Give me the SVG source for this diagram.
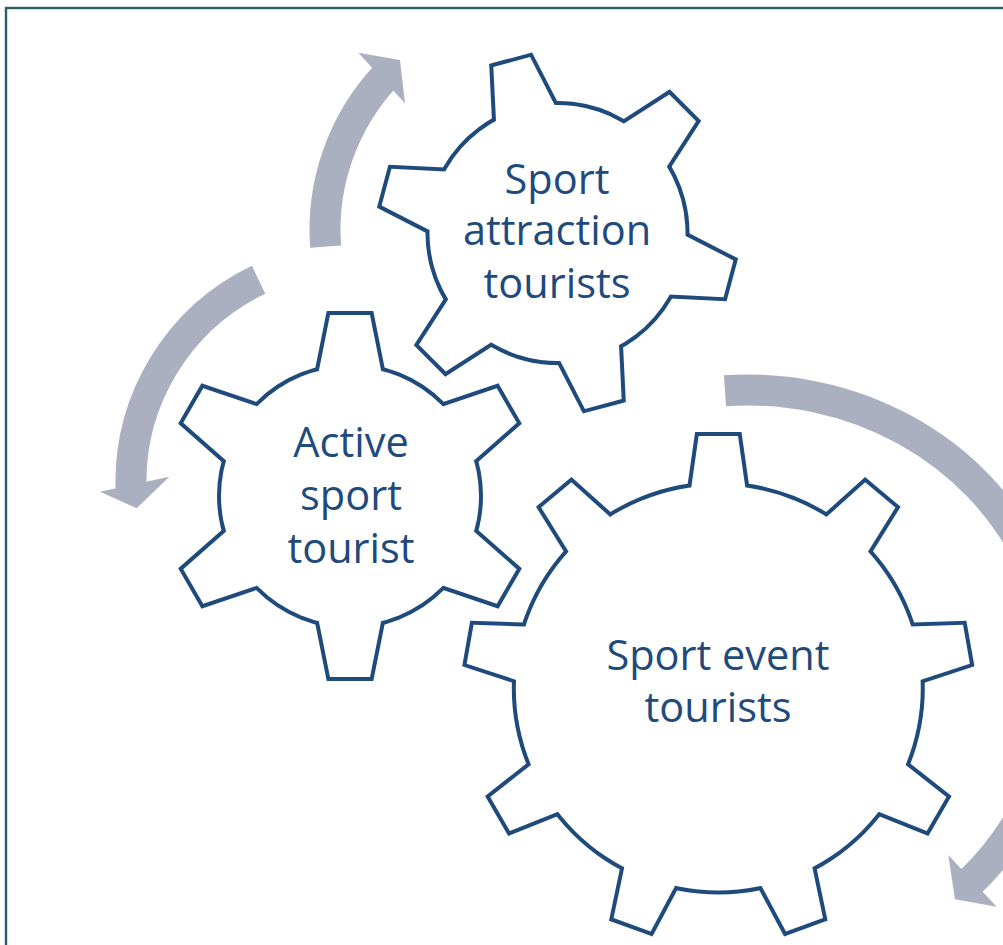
<svg xmlns="http://www.w3.org/2000/svg" xmlns:xlink="http://www.w3.org/1999/xlink" width="1003" height="945" viewBox="0 0 1003 945">
  <style>
    .frame { fill: none; stroke: #2b5e6c; stroke-width: 2.4; }
    .flow { fill: none; stroke: #aab0bf; stroke-width: 31; stroke-linecap: butt; }
    .head { fill: #aab0bf; stroke: none; }
    /* rim: doubled stroke, half of it stays visible outside the white face */
    .rim { fill: #1f4a7c; stroke: #1f4a7c; stroke-width: 8; stroke-linejoin: miter; stroke-miterlimit: 10; }
    .face { fill: #ffffff; stroke: none; }
    .lbl { font-family: "Open Sans", "Noto Sans", "Liberation Sans", sans-serif; font-size: 41.5px; fill: #1f4a7c; text-anchor: middle; }
  </style>
  <defs>
    <!-- single teeth, pointing up from the gear centre -->
    <polygon id="tooth-a" points="-20,-181 20,-181 37.2,-95 -37.2,-95"/>
    <polygon id="tooth-b" points="-19,-177 19,-177 36.7,-95 -36.7,-95"/>
    <polygon id="tooth-c" points="-19.7,-252 19.7,-252 31.4,-170 -31.4,-170"/>
    <!-- gear silhouettes: body disc plus teeth -->
    <g id="gear-a">
      <circle r="129"/>
      <use xlink:href="#tooth-a"/>
      <use xlink:href="#tooth-a" transform="rotate(60)"/>
      <use xlink:href="#tooth-a" transform="rotate(120)"/>
      <use xlink:href="#tooth-a" transform="rotate(180)"/>
      <use xlink:href="#tooth-a" transform="rotate(240)"/>
      <use xlink:href="#tooth-a" transform="rotate(300)"/>
    </g>
    <g id="gear-b">
      <circle r="128"/>
      <use xlink:href="#tooth-b"/>
      <use xlink:href="#tooth-b" transform="rotate(60)"/>
      <use xlink:href="#tooth-b" transform="rotate(120)"/>
      <use xlink:href="#tooth-b" transform="rotate(180)"/>
      <use xlink:href="#tooth-b" transform="rotate(240)"/>
      <use xlink:href="#tooth-b" transform="rotate(300)"/>
    </g>
    <g id="gear-c">
      <circle r="202.5"/>
      <use xlink:href="#tooth-c"/>
      <use xlink:href="#tooth-c" transform="rotate(40)"/>
      <use xlink:href="#tooth-c" transform="rotate(80)"/>
      <use xlink:href="#tooth-c" transform="rotate(120)"/>
      <use xlink:href="#tooth-c" transform="rotate(160)"/>
      <use xlink:href="#tooth-c" transform="rotate(200)"/>
      <use xlink:href="#tooth-c" transform="rotate(240)"/>
      <use xlink:href="#tooth-c" transform="rotate(280)"/>
      <use xlink:href="#tooth-c" transform="rotate(320)"/>
    </g>
  </defs>

  <rect class="frame" x="6" y="8" width="1200" height="1200"/>

  <!-- curved arrows showing the rotation of the gears -->
  <g id="connectors">
    <g id="arrow-up">
      <path class="flow" d="M 325.6,246.6 A 226 226 0 0 1 385.7,75.9"/>
      <polygon class="head" points="358.3,52.7 400,60 405,103.3"/>
    </g>
    <g id="arrow-left">
      <path class="flow" d="M 258.6,279.8 A 224 224 0 0 0 131.1,489.8"/>
      <polygon class="head" points="100,491.7 136.7,508.3 169.3,476.7"/>
    </g>
    <g id="arrow-right">
      <path class="flow" d="M 725,390.8 A 310 290 0 0 1 969.1,883.3"/>
      <polygon class="head" points="948.3,855 955,899.3 996.7,906.7"/>
    </g>
  </g>

  <g id="node-sport-attraction">
    <use class="rim" xlink:href="#gear-b" transform="translate(557.5 233) rotate(-15)"/>
    <use class="face" xlink:href="#gear-b" transform="translate(557.5 233) rotate(-15)"/>
    <text class="lbl" x="557" y="194">Sport</text>
    <text class="lbl" x="557" y="245">attraction</text>
    <text class="lbl" x="557" y="298">tourists</text>
  </g>

  <g id="node-active-sport">
    <use class="rim" xlink:href="#gear-a" transform="translate(350 496)"/>
    <use class="face" xlink:href="#gear-a" transform="translate(350 496)"/>
    <text class="lbl" x="351" y="457">Active</text>
    <text class="lbl" x="351" y="510">sport</text>
    <text class="lbl" x="351" y="563">tourist</text>
  </g>

  <g id="node-sport-event">
    <use class="rim" xlink:href="#gear-c" transform="translate(718.3 688)"/>
    <use class="face" xlink:href="#gear-c" transform="translate(718.3 688)"/>
    <text class="lbl" x="718" y="670">Sport event</text>
    <text class="lbl" x="718" y="722">tourists</text>
  </g>
</svg>
